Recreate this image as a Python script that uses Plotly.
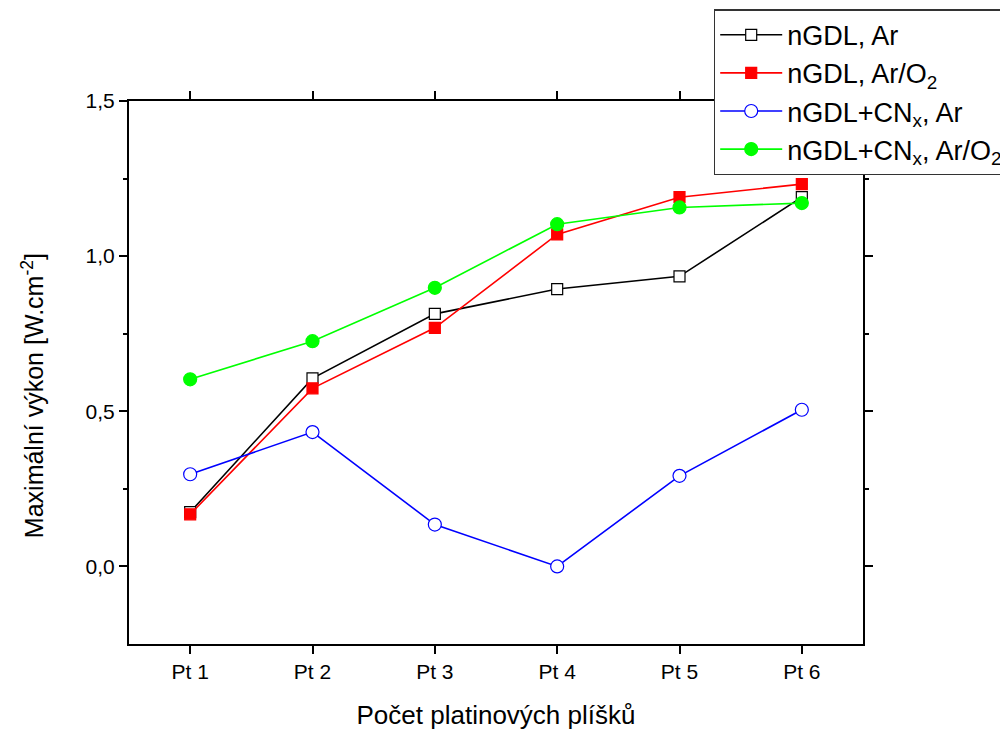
import plotly.graph_objects as go

# Platinum sheet count (categories) and maximum power density [W.cm-2]
categories = ["Pt 1", "Pt 2", "Pt 3", "Pt 4", "Pt 5", "Pt 6"]
positions = [1, 2, 3, 4, 5, 6]

ngdl_ar = [0.175, 0.606, 0.814, 0.894, 0.935, 1.19]
ngdl_ar_o2 = [0.168, 0.574, 0.769, 1.070, 1.190, 1.232]
ngdl_cnx_ar = [0.297, 0.433, 0.135, 0.0, 0.292, 0.505]
ngdl_cnx_ar_o2 = [0.603, 0.726, 0.898, 1.103, 1.157, 1.171]

y_tickvals = [0.0, 0.5, 1.0, 1.5]
y_ticktext = ["0,0", "0,5", "1,0", "1,5"]
y_minorvals = [0.25, 0.75, 1.25]

FONT = "Liberation Sans, Arial, sans-serif"

fig = go.Figure()

series = [
    ("nGDL, Ar", ngdl_ar, "#000000", "square", "white", 11),
    ("nGDL, Ar/O<sub>2</sub>", ngdl_ar_o2, "#ff0000", "square", "#ff0000", 11),
    ("nGDL+CN<sub>x</sub>, Ar", ngdl_cnx_ar, "#0000ff", "circle", "white", 13),
    ("nGDL+CN<sub>x</sub>, Ar/O<sub>2</sub>", ngdl_cnx_ar_o2, "#00ff00", "circle", "#00ff00", 13),
]

for name, vals, color, symbol, fill, size in series:
    fig.add_trace(go.Scatter(
        x=positions, y=vals, name=name, mode="lines+markers",
        line=dict(color=color, width=1.6),
        marker=dict(symbol=symbol, size=size, color=fill,
                    line=dict(color=color, width=1.2)),
    ))

fig.update_layout(
    width=1000, height=731,
    paper_bgcolor="white", plot_bgcolor="white",
    font=dict(family=FONT, color="black"),
    margin=dict(l=129, r=137, t=101, b=87, autoexpand=False),
    showlegend=True,
    legend=dict(
        x=0.7966, y=1.169, xanchor="left", yanchor="top",
        bgcolor="white", bordercolor="#333333", borderwidth=1.5,
        font=dict(family=FONT, size=27, color="black"),
        itemwidth=62, tracegroupgap=0,
    ),
    annotations=[dict(
        text="Maximální výkon [W.cm<sup>-2</sup>]",
        xref="paper", yref="paper", x=-0.131, y=0.458,
        xanchor="center", yanchor="middle", textangle=-90,
        showarrow=False, font=dict(family=FONT, size=25, color="black"),
    )],
)

fig.update_xaxes(
    range=[0.5, 6.5],
    tickmode="array", tickvals=positions, ticktext=categories,
    ticks="outside", ticklen=8, tickwidth=2, tickcolor="black",
    showline=True, linewidth=2, linecolor="black", mirror="ticks",
    showgrid=False, zeroline=False,
    tickfont=dict(family=FONT, size=21),
    title=dict(text="Počet platinových plíšků",
               font=dict(family=FONT, size=26), standoff=24),
)

fig.update_yaxes(
    range=[-0.25, 1.5],
    tickmode="array", tickvals=y_tickvals, ticktext=y_ticktext,
    ticks="outside", ticklen=8, tickwidth=2, tickcolor="black",
    minor=dict(tickmode="array", tickvals=y_minorvals, ticks="outside",
               ticklen=4, tickwidth=2, tickcolor="black", showgrid=False),
    showline=True, linewidth=2, linecolor="black", mirror="ticks",
    showgrid=False, zeroline=False,
    tickfont=dict(family=FONT, size=21),
)

fig.write_html("out.html")
